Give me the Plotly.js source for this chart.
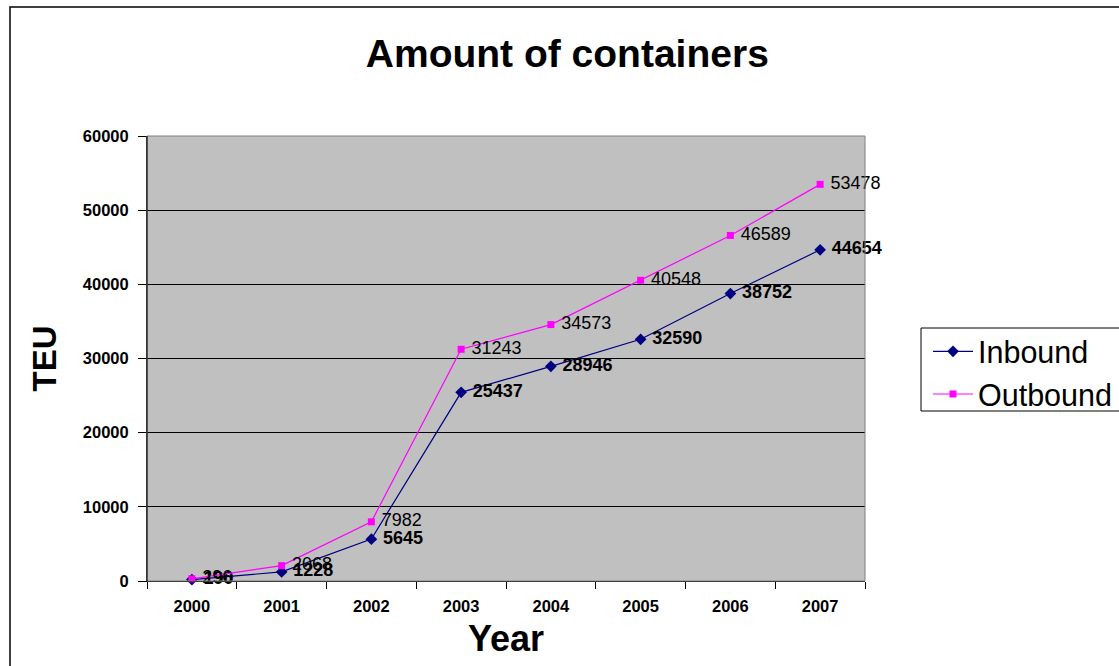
<!DOCTYPE html>
<html>
<head>
<meta charset="utf-8">
<script src="https://cdn.plot.ly/plotly-3.0.1.min.js"></script>
<style>html,body{margin:0;padding:0;background:#fff;}#chart{width:1119px;height:666px;}</style>
</head>
<body>
<div id="chart"></div>
<script>
const years = ["2000","2001","2002","2003","2004","2005","2006","2007"];
const inbound = [190, 1228, 5645, 25437, 28946, 32590, 38752, 44654];
const outbound = [296, 2068, 7982, 31243, 34573, 40548, 46589, 53478];
const yTicks = [0, 10000, 20000, 30000, 40000, 50000, 60000];

const font = "Liberation Sans, Arial, sans-serif";
const W = 1119, H = 666, L = 147, R = 254, T = 136, B = 85;
const pw = W - L - R, ph = H - T - B;
const px = v => (v - L) / pw;
const py = v => (H - B - v) / ph;

const traces = [
  {
    x: years, y: inbound, name: "Inbound", type: "scatter", mode: "lines+markers+text",
    line: {color: "#000080", width: 1.2},
    marker: {symbol: "diamond", size: 9, color: "#000080"},
    text: inbound.map(v => "\u00a0" + v), textposition: "middle right",
    textfont: {family: font, size: 18, color: "#000", weight: "bold"},
    cliponaxis: false
  },
  {
    x: years, y: outbound, name: "Outbound", type: "scatter", mode: "lines+markers+text",
    line: {color: "#FF00FF", width: 1.2},
    marker: {symbol: "square", size: 7, color: "#FF00FF"},
    text: outbound.map(v => "\u00a0" + v), textposition: "middle right",
    textfont: {family: font, size: 18, color: "#000"},
    cliponaxis: false
  }
];

const layout = {
  width: W, height: H,
  margin: {l: L, r: R, t: T, b: B, autoexpand: false},
  paper_bgcolor: "#ffffff",
  plot_bgcolor: "#C0C0C0",
  showlegend: true,
  title: {text: "Amount of containers", font: {family: font, size: 39, color: "#000", weight: "bold"},
          x: 0.507, xanchor: "center", y: 0.92, yanchor: "middle"},
  xaxis: {
    type: "category", range: [-0.5, 7.5], tickson: "boundaries",
    ticks: "outside", ticklen: 7, tickcolor: "#000", ticklabelstandoff: 10,
    showline: true, linecolor: "#000", linewidth: 1, mirror: false,
    showgrid: false, zeroline: false,
    tickfont: {family: font, size: 16.5, color: "#000", weight: "bold"},
    title: {text: "Year", font: {family: font, size: 36, color: "#000", weight: "bold"}, standoff: 12}
  },
  yaxis: {
    range: [0, 60000], tickvals: yTicks, ticktext: yTicks.map(String),
    ticks: "outside", ticklen: 8, tickcolor: "#000", ticklabelstandoff: 6,
    showline: true, linecolor: "#555", linewidth: 1,
    showgrid: true, gridcolor: "#000", gridwidth: 1, zeroline: false,
    tickfont: {family: font, size: 16.5, color: "#000", weight: "bold"},
    title: {text: "TEU", font: {family: font, size: 33, color: "#000", weight: "bold"}, standoff: 16}
  },
  legend: {
    x: px(928), y: py(325), xanchor: "left", yanchor: "top",
    bgcolor: "rgba(0,0,0,0)", borderwidth: 0, itemwidth: 40,
    font: {family: font, size: 30.5, color: "#000"},
    tracegroupgap: 0
  },
  shapes: [
    {type: "rect", xref: "paper", yref: "paper", x0: 0, x1: 1, y0: 0, y1: 1,
     line: {color: "#808080", width: 1}, fillcolor: "rgba(0,0,0,0)"},
    {type: "line", xref: "paper", yref: "paper", x0: 0, x1: 0, y0: 0, y1: 1, line: {color: "#000", width: 1}},
    {type: "rect", xref: "paper", yref: "paper", x0: px(10), x1: px(1130), y0: py(690), y1: py(7),
     line: {color: "#000", width: 1.5}, fillcolor: "rgba(0,0,0,0)", layer: "below"},
    {type: "rect", xref: "paper", yref: "paper", x0: px(921), x1: px(1130), y0: py(411), y1: py(328),
     line: {color: "#000", width: 1}, fillcolor: "#ffffff", layer: "below"}
  ]
};

Plotly.newPlot("chart", traces, layout, {displayModeBar: false, staticPlot: true});
</script>
</body>
</html>
